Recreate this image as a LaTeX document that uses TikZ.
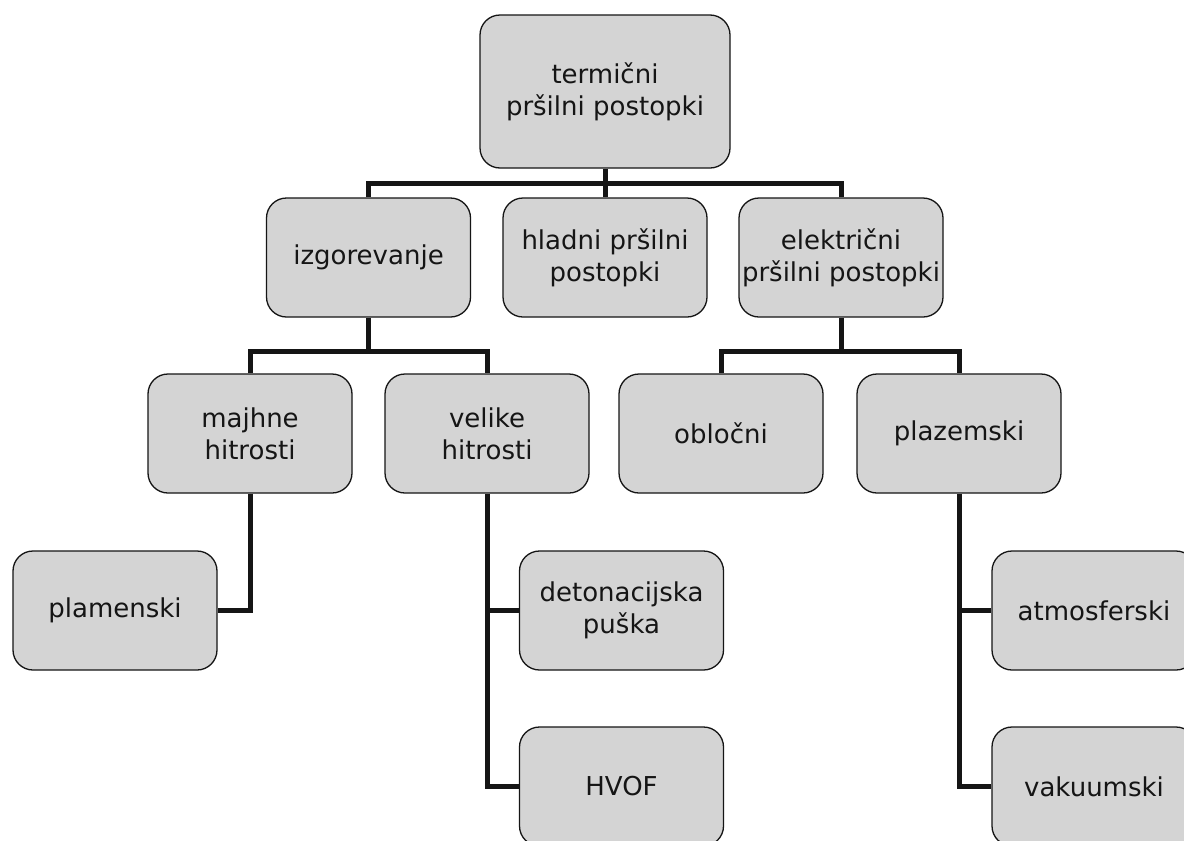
\documentclass[tikz,border=0pt]{standalone}
\usepackage{fontspec}
\setmainfont{DejaVu Sans}
\definecolor{boxgray}{HTML}{D4D4D4}
\definecolor{inkc}{HTML}{151515}
\begin{document}
\begin{tikzpicture}[x=1pt,y=-1pt,
  box/.style={draw=inkc, line width=1.3pt, fill=boxgray, rounded corners=20pt,
    minimum width=204pt, minimum height=119pt, inner sep=0pt, align=center,
    font=\fontsize{26}{32}\selectfont, text=inkc},
  conn/.style={line width=5pt, draw=inkc}]
\fill[white] (0,0) rectangle (1184,841);
\useasboundingbox (0,0) rectangle (1184,841);

\node[box, minimum width=250pt, minimum height=153pt] (top) at (605,91.5) {termični\\pršilni postopki};
\node[box] (izg) at (368.5,257.5) {izgorevanje};
\node[box] (hladni) at (605,257.5) {hladni pršilni\\postopki};
\node[box] (ele) at (841,257.5) {električni\\pršilni postopki};
\node[box] (majhne) at (250,433.5) {majhne\\hitrosti};
\node[box] (velike) at (487,433.5) {velike\\hitrosti};
\node[box] (obl) at (721,433.5) {obločni};
\node[box] (plaz) at (959,433.5) {plazemski};
\node[box] (plam) at (115,610.5) {plamenski};
\node[box] (deto) at (621.5,610.5) {detonacijska\\puška};
\node[box] (atmo) at (1094,610.5) {atmosferski};
\node[box] (hvof) at (621.5,786.5) {HVOF};
\node[box] (vaku) at (1094,786.5) {vakuumski};

\draw[conn] (top.south) -- (hladni.north);
\draw[conn] (izg.north) -- ++(0,-14) -| (ele.north);
\draw[conn] (izg.south) -- ++(0,35);
\draw[conn] (majhne.north) -- ++(0,-22) -| (velike.north);
\draw[conn] (ele.south) -- ++(0,35);
\draw[conn] (obl.north) -- ++(0,-22) -| (plaz.north);
\draw[conn] (majhne.south) |- (plam.east);
\draw[conn] (velike.south) |- (hvof.west);
\draw[conn] (velike.south |- deto.west) -- (deto.west);
\draw[conn] (plaz.south) |- (vaku.west);
\draw[conn] (plaz.south |- atmo.west) -- (atmo.west);
\end{tikzpicture}
\end{document}
